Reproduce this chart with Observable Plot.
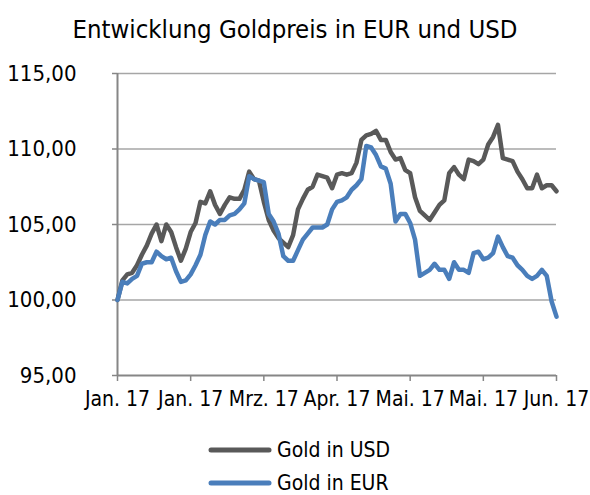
<!DOCTYPE html>
<html>
<head>
<meta charset="utf-8">
<script src="https://cdn.jsdelivr.net/npm/d3@7"></script>
<script src="https://cdn.jsdelivr.net/npm/@observablehq/plot@0.6"></script>
<style>
  html, body { margin: 0; padding: 0; background: #fff; }
  body { width: 590px; height: 495px; position: relative; overflow: hidden;
         font-family: 'Liberation Sans Narrow', 'DejaVu Sans Condensed', 'Arial Narrow', sans-serif; }
  #chart { position: absolute; left: 0; top: 0; z-index: 0; }
  #title { position: absolute; left: 0; width: 590px; top: 13px; text-align: center;
           font-size: 25.5px; line-height: 32px; color: #000; z-index: 2; }
  .leg { position: absolute; left: 208px; height: 20px; line-height: 20px; display: flex; align-items: center;
         font-size: 21px; color: #000; z-index: 2; }
  .leg svg { margin-right: 5px; }
</style>
</head>
<body>
<div id="chart"></div>
<div id="title">Entwicklung Goldpreis in EUR und USD</div>
<div id="legend"></div>
<script>
// Series values (indexed trading days, normalised to 100 at start)
const usd = [
  100.0, 101.3, 101.7, 101.8, 102.3, 103.0, 103.6, 104.4, 105.0, 103.9,
  105.0, 104.5, 103.5, 102.6, 103.4, 104.5, 105.1, 106.5, 106.4, 107.2,
  106.3, 105.7, 106.3, 106.8, 106.7, 106.7, 107.3, 108.5, 108.0, 107.9,
  106.5, 105.3, 104.6, 104.1, 103.8, 103.5, 104.3, 106.0, 106.7, 107.3,
  107.5, 108.3, 108.2, 108.1, 107.4, 108.3, 108.4, 108.3, 108.4, 109.1,
  110.6, 110.9, 111.0, 111.2, 110.6, 110.6, 109.8, 109.3, 109.4, 108.6,
  108.4, 106.8, 105.9, 105.6, 105.3, 105.8, 106.3, 106.6, 108.4, 108.8,
  108.3, 108.0, 109.3, 109.2, 109.0, 109.3, 110.3, 110.8, 111.6, 109.4,
  109.3, 109.2, 108.5, 108.0, 107.4, 107.4, 108.3, 107.4, 107.6, 107.6,
  107.2
];
const eur = [
  100.0, 101.2, 101.1, 101.4, 101.6, 102.4, 102.5, 102.5, 103.2, 102.9,
  102.7, 102.8, 101.9, 101.2, 101.3, 101.7, 102.3, 103.0, 104.3, 105.2,
  105.0, 105.3, 105.3, 105.6, 105.7, 106.0, 106.4, 108.2, 108.0, 107.9,
  107.8, 105.7, 105.2, 104.4, 102.9, 102.6, 102.6, 103.3, 104.0, 104.4,
  104.8, 104.8, 104.8, 105.0, 106.0, 106.5, 106.6, 106.8, 107.3, 107.6,
  108.0, 110.2, 110.1, 109.6, 108.85, 108.7, 107.7, 105.2, 105.7, 105.7,
  105.1, 104.0, 101.6, 101.8, 102.0, 102.4, 102.0, 102.0, 101.4, 102.5,
  102.0, 102.0, 101.8, 103.1, 103.2, 102.7, 102.8, 103.1, 104.2, 103.5,
  102.9, 102.8, 102.3, 102.0, 101.6, 101.4, 101.6, 102.0, 101.6, 99.9,
  98.9
];
const tickIndex = [0, 15, 30, 45, 60, 75, 90];
const tickLabels = ["Jan. 17", "Jan. 17", "Mrz. 17", "Apr. 17", "Mai. 17", "Mai. 17", "Jun. 17"];
const yTicks = [95, 100, 105, 110, 115];
const seriesNames = ["Gold in USD", "Gold in EUR"];
const seriesColors = ["#595959", "#4a7ebb"];

const rows = [];
usd.forEach((v, i) => rows.push({i, v, s: seriesNames[0]}));
eur.forEach((v, i) => rows.push({i, v, s: seriesNames[1]}));

const axisColor = "#868686";
const chart = Plot.plot({
  width: 590,
  height: 495,
  marginLeft: 117,
  marginRight: 34,
  marginTop: 73,
  marginBottom: 120,
  style: {
    fontFamily: "'Liberation Sans Narrow', 'DejaVu Sans Condensed', 'Arial Narrow', sans-serif",
    fontSize: "22px",
    color: "#000",
    background: "white",
    overflow: "visible"
  },
  x: { domain: [0, 90] },
  y: { domain: [95, 115] },
  color: { domain: seriesNames, range: seriesColors },
  marks: [
    Plot.ruleY(yTicks.filter(d => d > 95), { stroke: "#a6a6a6", strokeWidth: 1.5 }),
    Plot.axisY({
      ticks: yTicks, tickSize: 5, tickPadding: 36, stroke: axisColor, strokeWidth: 1.5,
      tickFormat: d => d.toFixed(2).replace(".", ","), label: null, fontSize: 22, fill: "#000"
    }),
    Plot.axisX({
      ticks: tickIndex, tickSize: 6, tickPadding: 10, stroke: axisColor, strokeWidth: 1.5,
      tickFormat: (d) => tickLabels[tickIndex.indexOf(d)], label: null, fontSize: 21, fill: "#000"
    }),
    Plot.ruleX([0], { y1: 95, y2: 115, stroke: axisColor, strokeWidth: 2 }),
    Plot.ruleY([95], { stroke: axisColor, strokeWidth: 2 }),
    Plot.line(rows, {
      x: "i", y: "v", z: "s", stroke: "s", strokeWidth: 4.5,
      strokeLinejoin: "round", strokeLinecap: "round"
    })
  ]
});
document.getElementById("chart").appendChild(chart);

// Legend
const legend = document.getElementById("legend");
seriesNames.forEach((name, k) => {
  const div = document.createElement("div");
  div.className = "leg";
  div.style.top = (440 + k * 33) + "px";
  div.innerHTML = `<svg width="64" height="8"><line x1="3" y1="4" x2="61" y2="4" stroke="${seriesColors[k]}" stroke-width="5" stroke-linecap="round"/></svg><span>${name}</span>`;
  legend.appendChild(div);
});
</script>
</body>
</html>
